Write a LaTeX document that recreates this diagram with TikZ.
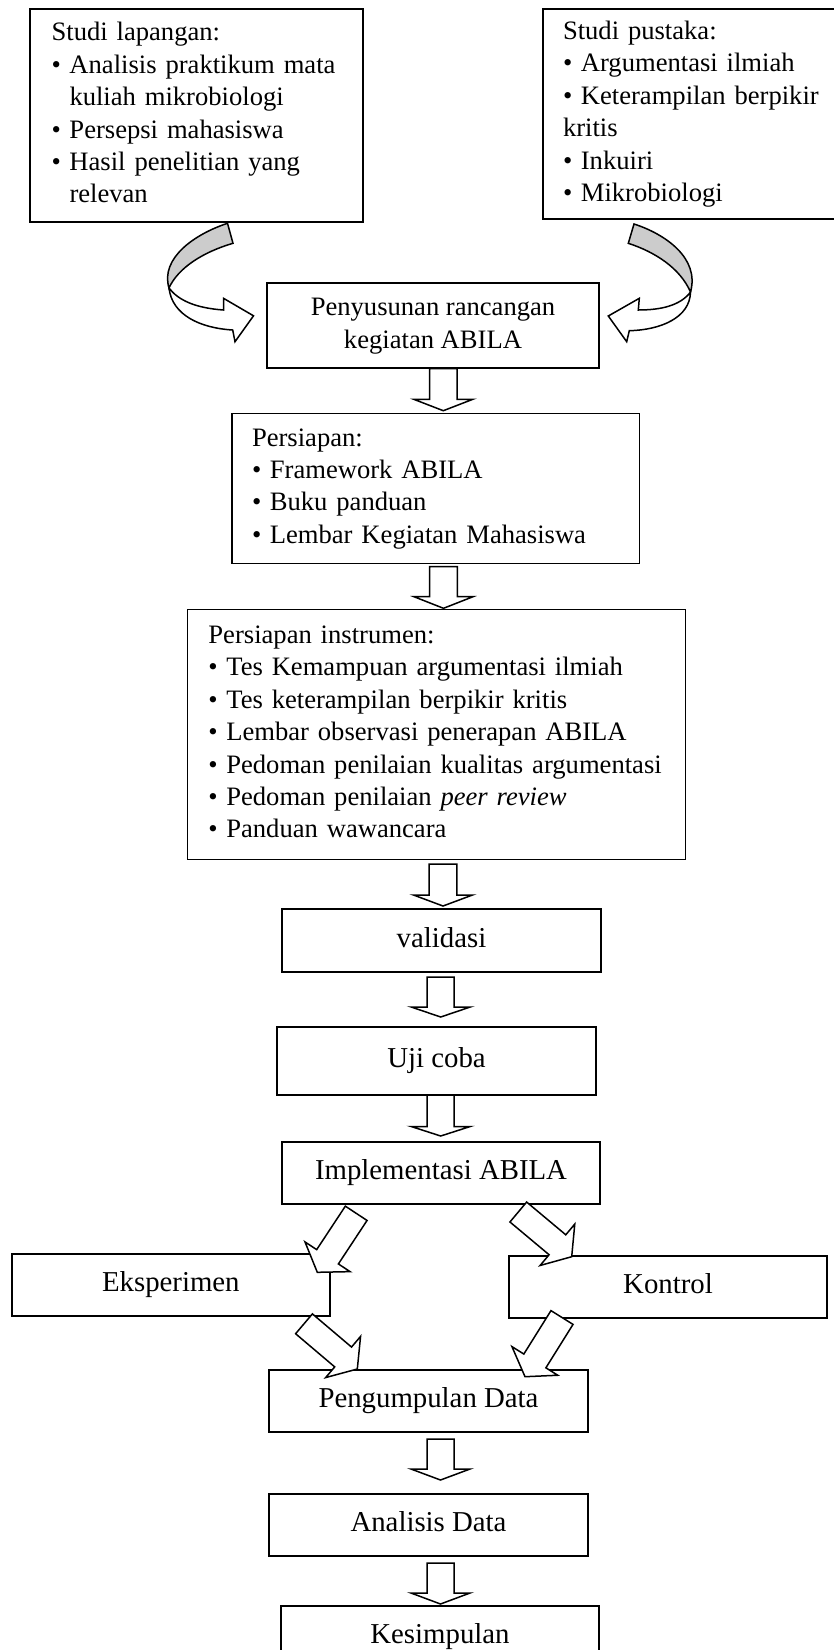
\documentclass[tikz,border=0pt]{standalone}
\usepackage{fontspec}
\setmainfont{Liberation Serif}
\usetikzlibrary{calc}
\definecolor{bandgray}{RGB}{204,204,204}
\newcommand\bul{\makebox[17.9pt][l]{\textbullet}}
\newcommand\hng{\hspace*{17.9pt}}
% block arrow: tail, tip, shaft half width, head half width, head length
\newcommand\blkarrow[5]{%
  \coordinate (#1h) at ($(#2)!#5!(#1)$);
  \draw[blk] ($(#1)!#3!90:(#2)$) -- ($(#1h)!#3!90:(#2)$) -- ($(#1h)!#4!90:(#2)$) -- (#2)
    -- ($(#1h)!#4!-90:(#2)$) -- ($(#1h)!#3!-90:(#2)$) -- ($(#1)!#3!-90:(#2)$) -- cycle;}
\begin{document}
\begin{tikzpicture}[x=1pt,y=-1pt,
  box/.style={draw, line width=1.6pt, inner sep=0pt},
  lst/.style={box, align=left, font=\fontsize{26.6}{32.4}\selectfont},
  one/.style={box, align=center, font=\fontsize{28.8}{34}\selectfont, text height=20pt, text depth=7pt},
  blk/.style={draw, fill=white, line width=1.5pt, line join=miter},
  band/.style={draw, line width=1.5pt, line join=miter}]
\useasboundingbox (0,0) rectangle (834,1650);
\fill[white] (0,0) rectangle (834,1650);

% boxes
\node[lst, minimum width=333pt, minimum height=213pt, text width=289.8pt] (b1) at (196.5,115.5)
 {\strut Studi lapangan:\\
  \strut\bul Analisis praktikum mata\\
  \strut\hng kuliah mikrobiologi\\
  \strut\bul Persepsi mahasiswa\\
  \strut\bul Hasil penelitian yang\\
  \strut\hng relevan};
\node[lst, minimum width=297pt, minimum height=210pt, text width=257pt] (b2) at (691.5,114)
 {\strut Studi pustaka:\\
  \strut\bul Argumentasi ilmiah\\
  \strut\bul Keterampilan berpikir\\
  \strut kritis\\
  \strut\bul Inkuiri\\
  \strut\bul Mikrobiologi};
\node[box, align=center, font=\fontsize{26.6}{33}\selectfont, minimum width=332pt, minimum height=85pt] (b3) at (433,325.5)
 {\strut Penyusunan rancangan\\ \strut kegiatan ABILA};
\node[lst, minimum width=407.3pt, minimum height=150pt, text width=367.3pt] (b4) at (435.65,488.3)
 {\strut Persiapan:\\
  \strut\bul Framework ABILA\\
  \strut\bul Buku panduan\\
  \strut\bul Lembar Kegiatan Mahasiswa};
\node[lst, minimum width=497.7pt, minimum height=250pt, text width=456pt] (b5) at (436.45,734.3)
 {\strut Persiapan instrumen:\\
  \strut\bul Tes Kemampuan argumentasi ilmiah\\
  \strut\bul Tes keterampilan berpikir kritis\\
  \strut\bul Lembar observasi penerapan ABILA\\
  \strut\bul Pedoman penilaian kualitas argumentasi\\
  \strut\bul Pedoman penilaian \textit{peer review}\\
  \strut\bul Panduan wawancara};
\node[one, minimum width=319pt, minimum height=63pt] (b6) at (441.5,940.5) {validasi};
\node[one, minimum width=319pt, minimum height=68pt] (b7) at (436.5,1061) {Uji coba};
\node[one, minimum width=318pt, minimum height=62pt] (b8) at (441,1173) {Implementasi ABILA};
\node[one, minimum width=318.3pt, minimum height=62pt] (b9) at (170.85,1285) {Eksperimen};
\node[one, minimum width=318pt, minimum height=62pt] (b10) at (668,1287) {Kontrol};
\node[one, minimum width=319pt, minimum height=62pt] (b11) at (428.5,1401) {Pengumpulan Data};
\node[one, minimum width=319pt, minimum height=62pt] (b12) at (428.5,1525) {Analisis Data};
\node[one, minimum width=318pt, minimum height=62pt] (b13) at (440,1637) {Kesimpulan};

% curved arrows
\draw[band, fill=bandgray] (227.5,223.3) .. controls (195,234) and (160,258) .. (169,288)
  .. controls (178,268) and (203,252) .. (233,243.3) -- cycle;
\draw[band, fill=white] (169,288) .. controls (172,315) and (200,328) .. (232.7,330)
  -- (235,341.7) -- (253.5,315.8) -- (223.5,298.3) -- (223.5,310)
  .. controls (195,308) and (178,300) .. (169,288) -- cycle;
\draw[band, fill=bandgray] (634,224) .. controls (665,234) and (700,258) .. (690.5,292)
  .. controls (680,268) and (655,252) .. (628.3,243.3) -- cycle;
\draw[band, fill=white] (690.5,292) .. controls (680,306) and (660,310) .. (638.3,310)
  -- (639.3,298.3) -- (608.3,316) -- (626.7,341.7) -- (629.3,330.7)
  .. controls (660,330) and (690,318) .. (690.5,292) -- cycle;

% vertical arrows
\coordinate (a34t) at (443.3,368.5);  \coordinate (a34p) at (443.3,410.7);
\coordinate (a45t) at (443.5,566.7);  \coordinate (a45p) at (443.5,608.3);
\coordinate (a56t) at (443,864);      \coordinate (a56p) at (443,906);
\coordinate (a67t) at (440.7,977);    \coordinate (a67p) at (440.7,1017);
\coordinate (a78t) at (440.7,1095);   \coordinate (a78p) at (440.7,1136);
\coordinate (aBCt) at (440.5,1439);   \coordinate (aBCp) at (440.5,1480);
\coordinate (aCDt) at (440.5,1563);   \coordinate (aCDp) at (440.5,1604);
\blkarrow{a34t}{a34p}{13.8pt}{29.5pt}{11.4pt}
\blkarrow{a45t}{a45p}{13.8pt}{29.5pt}{11.6pt}
\blkarrow{a56t}{a56p}{13.8pt}{29.5pt}{11pt}
\blkarrow{a67t}{a67p}{13.5pt}{29.5pt}{10pt}
\blkarrow{a78t}{a78p}{13.5pt}{29.5pt}{9.5pt}
\blkarrow{aBCt}{aBCp}{13.5pt}{29.5pt}{11pt}
\blkarrow{aCDt}{aCDp}{13.5pt}{29.5pt}{11pt}

% diagonal arrows
\coordinate (dAt) at (356.2,1213.3); \coordinate (dAp) at (317.3,1272.3);
\coordinate (dBt) at (518.3,1212);   \coordinate (dBp) at (571.7,1256.7);
\coordinate (dCt) at (304,1323.8);   \coordinate (dCp) at (357.3,1369);
\coordinate (dDt) at (562,1317.5);   \coordinate (dDp) at (525,1376.7);
\blkarrow{dAt}{dAp}{13pt}{27pt}{18.6pt}
\blkarrow{dBt}{dBp}{13pt}{27pt}{18.6pt}
\blkarrow{dCt}{dCp}{13pt}{27pt}{18.6pt}
\blkarrow{dDt}{dDp}{13pt}{27pt}{18.6pt}
\end{tikzpicture}
\end{document}
